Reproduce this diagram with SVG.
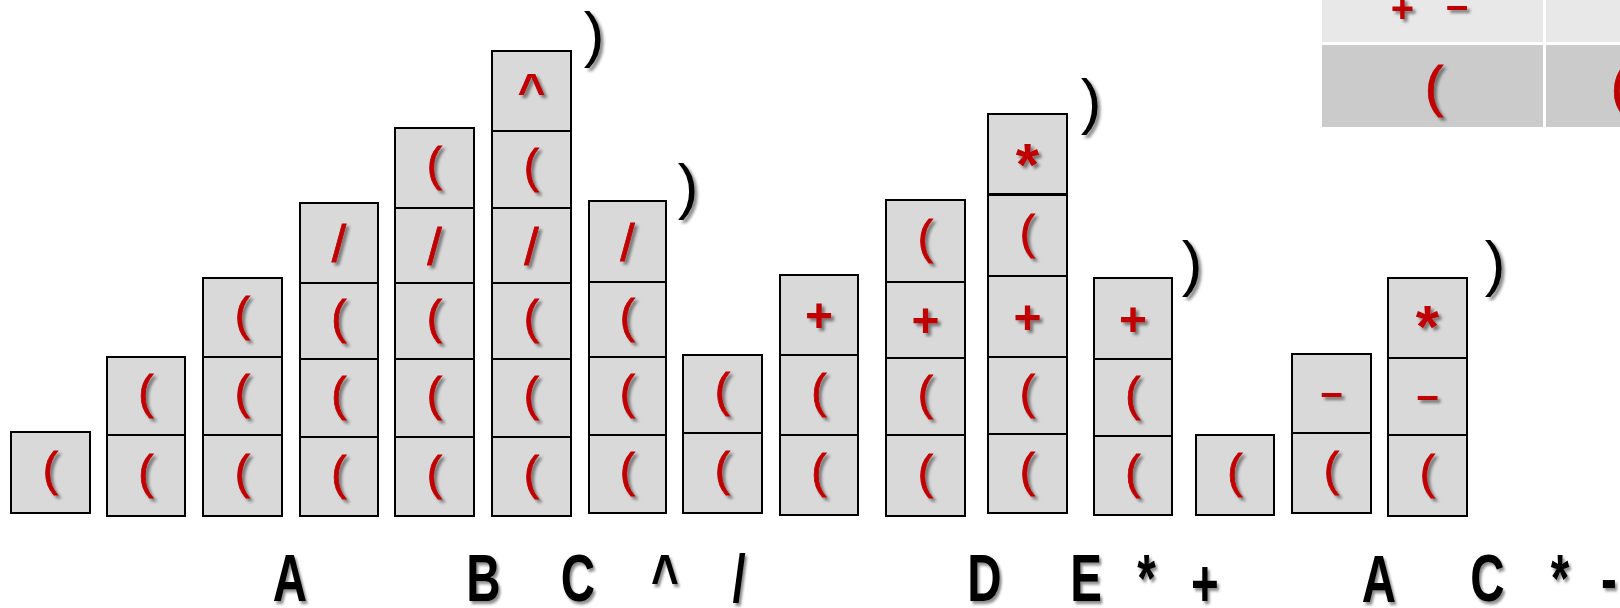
<svg xmlns="http://www.w3.org/2000/svg" width="1620" height="608" viewBox="0 0 1620 608">
<defs>
<filter id="sh" x="-50%" y="-50%" width="200%" height="200%">
<feDropShadow dx="3" dy="3" stdDeviation="1.6" flood-color="#000" flood-opacity="0.45"/>
</filter>
<style>
.box{fill:#d9d9d9;stroke:#000;stroke-width:2}
.sym{fill:#c00000;font-family:"Liberation Sans",Arial,sans-serif;text-anchor:middle;filter:url(#sh)}
.p{font-size:46px;font-weight:normal;stroke:#c00000;stroke-width:0.8}
.sl{font-size:52px;font-weight:normal;stroke:#c00000;stroke-width:0.8}
.pl{font-size:48px;font-weight:bold}
.mi{font-size:40px;font-weight:bold}
.st{font-size:60px;font-weight:bold}
.ca{font-size:48px;font-weight:bold}
.cl{fill:#000;font-family:"Liberation Sans",Arial,sans-serif;font-size:62px;text-anchor:middle;filter:url(#sh)}
.lb{fill:#000;font-family:"Liberation Sans",Arial,sans-serif;font-size:66px;font-weight:bold;text-anchor:middle;filter:url(#sh)}
.t1{fill:#e8e8e8}
.t2{fill:#cbcbcb}
</style>
</defs>
<rect width="1620" height="608" fill="#fff"/>

<g id="table">
<rect class="t1" x="1322" y="0" width="221" height="42"/>
<rect class="t1" x="1546" y="0" width="74" height="42"/>
<rect class="t2" x="1322" y="45" width="221" height="82"/>
<rect class="t2" x="1546" y="45" width="74" height="82"/>
<text class="sym mi"><tspan x="1408" y="22">+</tspan> <tspan x="1457" y="19">–</tspan></text>
<text class="sym p" x="1434" y="105" style="font-size:56px">(</text>
<text class="sym p" x="1620" y="105" style="font-size:56px">(</text>
</g>

<g id="col1">
<g id="c1-1"><rect class="box" x="11" y="432" width="79" height="81"/><text class="sym p" x="50.5" y="484.5">(</text></g>
</g>
<g id="col2">
<g id="c2-1"><rect class="box" x="107" y="435" width="78" height="81"/><text class="sym p" x="146" y="487.5">(</text></g>
<g id="c2-2"><rect class="box" x="107" y="357" width="78" height="78"/><text class="sym p" x="146" y="408">(</text></g>
</g>
<g id="col3">
<g id="c3-1"><rect class="box" x="203" y="435" width="79" height="81"/><text class="sym p" x="242.5" y="487.5">(</text></g>
<g id="c3-2"><rect class="box" x="203" y="357" width="79" height="78"/><text class="sym p" x="242.5" y="408">(</text></g>
<g id="c3-3"><rect class="box" x="203" y="278" width="79" height="79"/><text class="sym p" x="242.5" y="329.5">(</text></g>
</g>
<g id="col4">
<g id="c4-1"><rect class="box" x="300" y="437" width="78" height="79"/><text class="sym p" x="339" y="488.5">(</text></g>
<g id="c4-2"><rect class="box" x="300" y="359" width="78" height="78"/><text class="sym p" x="339" y="410">(</text></g>
<g id="c4-3"><rect class="box" x="300" y="283" width="78" height="76"/><text class="sym p" x="339" y="333">(</text></g>
<g id="c4-4"><rect class="box" x="300" y="203" width="78" height="80"/><text class="sym sl" x="339" y="262">/</text></g>
</g>
<g id="col5">
<g id="c5-1"><rect class="box" x="395" y="437" width="79" height="79"/><text class="sym p" x="434.5" y="488.5">(</text></g>
<g id="c5-2"><rect class="box" x="395" y="359" width="79" height="78"/><text class="sym p" x="434.5" y="410">(</text></g>
<g id="c5-3"><rect class="box" x="395" y="283" width="79" height="76"/><text class="sym p" x="434.5" y="333">(</text></g>
<g id="c5-4"><rect class="box" x="395" y="208" width="79" height="75"/><text class="sym sl" x="434.5" y="264.5">/</text></g>
<g id="c5-5"><rect class="box" x="395" y="128" width="79" height="80"/><text class="sym p" x="434.5" y="180">(</text></g>
</g>
<g id="col6">
<g id="c6-1"><rect class="box" x="492" y="437" width="79" height="79"/><text class="sym p" x="531.5" y="488.5">(</text></g>
<g id="c6-2"><rect class="box" x="492" y="359" width="79" height="78"/><text class="sym p" x="531.5" y="410">(</text></g>
<g id="c6-3"><rect class="box" x="492" y="283" width="79" height="76"/><text class="sym p" x="531.5" y="333">(</text></g>
<g id="c6-4"><rect class="box" x="492" y="208" width="79" height="75"/><text class="sym sl" x="531.5" y="264.5">/</text></g>
<g id="c6-5"><rect class="box" x="492" y="131" width="79" height="77"/><text class="sym p" x="531.5" y="181.5">(</text></g>
<g id="c6-6"><rect class="box" x="492" y="51" width="79" height="80"/><text class="sym ca" x="531.5" y="107">^</text></g>
</g>
<g id="col7">
<g id="c7-1"><rect class="box" x="589" y="435" width="77" height="78"/><text class="sym p" x="627.5" y="486">(</text></g>
<g id="c7-2"><rect class="box" x="589" y="357" width="77" height="78"/><text class="sym p" x="627.5" y="408">(</text></g>
<g id="c7-3"><rect class="box" x="589" y="282" width="77" height="75"/><text class="sym p" x="627.5" y="331.5">(</text></g>
<g id="c7-4"><rect class="box" x="589" y="201" width="77" height="81"/><text class="sym sl" x="627.5" y="260.5">/</text></g>
</g>
<g id="col8">
<g id="c8-1"><rect class="box" x="683" y="433" width="79" height="80"/><text class="sym p" x="722.5" y="485">(</text></g>
<g id="c8-2"><rect class="box" x="683" y="355" width="79" height="78"/><text class="sym p" x="722.5" y="406">(</text></g>
</g>
<g id="col9">
<g id="c9-1"><rect class="box" x="780" y="435" width="78" height="80"/><text class="sym p" x="819" y="487">(</text></g>
<g id="c9-2"><rect class="box" x="780" y="355" width="78" height="80"/><text class="sym p" x="819" y="407">(</text></g>
<g id="c9-3"><rect class="box" x="780" y="275" width="78" height="80"/><text class="sym pl" x="819" y="332">+</text></g>
</g>
<g id="col10">
<g id="c10-1"><rect class="box" x="886" y="435" width="79" height="81"/><text class="sym p" x="925.5" y="487.5">(</text></g>
<g id="c10-2"><rect class="box" x="886" y="358" width="79" height="77"/><text class="sym p" x="925.5" y="408.5">(</text></g>
<g id="c10-3"><rect class="box" x="886" y="282" width="79" height="76"/><text class="sym pl" x="925.5" y="337">+</text></g>
<g id="c10-4"><rect class="box" x="886" y="200" width="79" height="82"/><text class="sym p" x="925.5" y="253">(</text></g>
</g>
<g id="col11">
<g id="c11-1"><rect class="box" x="988" y="434" width="79" height="79"/><text class="sym p" x="1027.5" y="485.5">(</text></g>
<g id="c11-2"><rect class="box" x="988" y="357" width="79" height="77"/><text class="sym p" x="1027.5" y="407.5">(</text></g>
<g id="c11-3"><rect class="box" x="988" y="276" width="79" height="81"/><text class="sym pl" x="1027.5" y="333.5">+</text></g>
<g id="c11-4"><rect class="box" x="988" y="195" width="79" height="81"/><text class="sym p" x="1027.5" y="247.5">(</text></g>
<g id="c11-5"><rect class="box" x="988" y="114" width="79" height="80"/><text class="sym st" x="1027.5" y="184.6">*</text></g>
</g>
<g id="col12">
<g id="c12-1"><rect class="box" x="1094" y="436" width="78" height="79"/><text class="sym p" x="1133" y="487.5">(</text></g>
<g id="c12-2"><rect class="box" x="1094" y="359" width="78" height="77"/><text class="sym p" x="1133" y="409.5">(</text></g>
<g id="c12-3"><rect class="box" x="1094" y="278" width="78" height="81"/><text class="sym pl" x="1133" y="335.5">+</text></g>
</g>
<g id="col13">
<g id="c13-1"><rect class="box" x="1196" y="435" width="78" height="80"/><text class="sym p" x="1235" y="487">(</text></g>
</g>
<g id="col14">
<g id="c14-1"><rect class="box" x="1292" y="433" width="79" height="80"/><text class="sym p" x="1331.5" y="485">(</text></g>
<g id="c14-2"><rect class="box" x="1292" y="354" width="79" height="79"/><text class="sym mi" x="1331.5" y="406.4">–</text></g>
</g>
<g id="col15">
<g id="c15-1"><rect class="box" x="1388" y="435" width="79" height="81"/><text class="sym p" x="1427.5" y="487.5">(</text></g>
<g id="c15-2"><rect class="box" x="1388" y="358" width="79" height="77"/><text class="sym mi" x="1427.5" y="409.4">–</text></g>
<g id="c15-3"><rect class="box" x="1388" y="278" width="79" height="80"/><text class="sym st" x="1427.5" y="346.6">*</text></g>
</g>

<g id="close-parens">
<text class="cl" x="594" y="55">)</text>
<text class="cl" x="688" y="207">)</text>
<text class="cl" x="1091" y="122">)</text>
<text class="cl" x="1192" y="284">)</text>
<text class="cl" x="1495" y="284">)</text>
</g>

<g id="output-labels">
<text class="lb" transform="translate(290,601) scale(0.72,1)">A</text>
<text class="lb" transform="translate(483.5,601) scale(0.72,1)">B</text>
<text class="lb" transform="translate(578,601) scale(0.72,1)">C</text>
<text class="lb" transform="translate(665,601) scale(0.72,1)">^</text>
<text class="lb" transform="translate(739,601) scale(0.72,1)">/</text>
<text class="lb" transform="translate(984.5,601) scale(0.72,1)">D</text>
<text class="lb" transform="translate(1086,601) scale(0.72,1)">E</text>
<text class="lb" transform="translate(1146.6,601) scale(0.72,1)">*</text>
<text class="lb" transform="translate(1205,606) scale(0.72,1)">+</text>
<text class="lb" transform="translate(1379,602) scale(0.72,1)">A</text>
<text class="lb" transform="translate(1487.5,601) scale(0.72,1)">C</text>
<text class="lb" transform="translate(1560,601) scale(0.72,1)">*</text>
<text class="lb" transform="translate(1609,601) scale(0.72,1)">-</text>
</g>
</svg>
